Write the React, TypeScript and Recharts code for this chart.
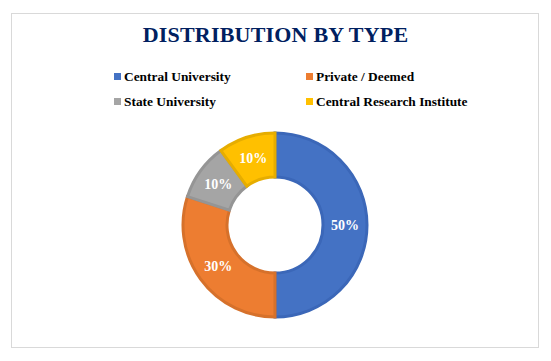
import React from "react";
import { PieChart, Pie, Cell } from "recharts";

const categories = ["Central University", "Private / Deemed", "State University", "Central Research Institute"];
const shares = [50, 30, 10, 10];
const FILLS = ["#4472C4", "#ED7D31", "#A5A5A5", "#FFC000"];
const STROKES = ["#3B67B8", "#D6712B", "#959595", "#E6AD00"];

const data = categories.map((name, i) => ({ name, value: shares[i] }));

const FONT = '"Liberation Serif", "Times New Roman", serif';

if (typeof document !== "undefined") document.body.style.margin = "0";

const RADIAN = Math.PI / 180;

const renderLabel = (props: any) => {
  const { cx, cy, midAngle, innerRadius, outerRadius, value } = props;
  const r = (innerRadius + outerRadius) / 2;
  const x = cx + r * Math.cos(-midAngle * RADIAN);
  const y = cy + r * Math.sin(-midAngle * RADIAN);
  return (
    <g>
      <text
        x={x}
        y={y + 5}
        fill="#ffffff"
        textAnchor="middle"
        fontFamily="Liberation Serif"
        fontWeight="bold"
        fontSize={14}
      >
        {`${value}%`}
      </text>
    </g>
  );
};

function ChartLegend() {
  return (
    <div
      style={{
        position: "absolute",
        left: 114,
        top: 68,
        display: "grid",
        gridTemplateColumns: "192px 220px",
        rowGap: 8,
        fontFamily: FONT,
        fontWeight: "bold",
        fontSize: 13.4,
        color: "#000",
      }}
    >
      {categories.map((name, i) => (
        <div key={name} style={{ display: "flex", alignItems: "center", height: 17 }}>
          <span
            style={{ width: 7, height: 7, background: FILLS[i], display: "inline-block", marginRight: 3 }}
          />
          <span>{name}</span>
        </div>
      ))}
    </div>
  );
}

export default function App() {
  return (
    <div style={{ position: "relative", width: 551, height: 361, background: "#fff", fontFamily: FONT }}>
      <div
        style={{
          position: "absolute",
          left: 11,
          top: 13,
          width: 526,
          height: 333,
          border: "1px solid #d9d9d9",
        }}
      />
      <div
        style={{
          position: "absolute",
          left: 0,
          top: 22,
          width: 551,
          textAlign: "center",
          fontWeight: "bold",
          fontSize: 22,
          color: "#002060",
          letterSpacing: 0.2,
        }}
      >
        DISTRIBUTION BY TYPE
      </div>
      <ChartLegend />
      <div style={{ position: "absolute", left: 0, top: 0 }}>
        <PieChart
          width={551}
          height={361}
          margin={{ top: 0, right: 0, bottom: 0, left: 0 }}
          style={{ fontFamily: FONT }}
        >
          <Pie
            data={data}
            dataKey="value"
            nameKey="name"
            cx={275}
            cy={225}
            innerRadius={48}
            outerRadius={92}
            startAngle={90}
            endAngle={-270}
            label={renderLabel}
            labelLine={false}
            isAnimationActive={false}
          >
            {data.map((entry, i) => (
              <Cell key={entry.name} fill={FILLS[i]} stroke={STROKES[i]} strokeWidth={3} />
            ))}
          </Pie>
        </PieChart>
      </div>
    </div>
  );
}
